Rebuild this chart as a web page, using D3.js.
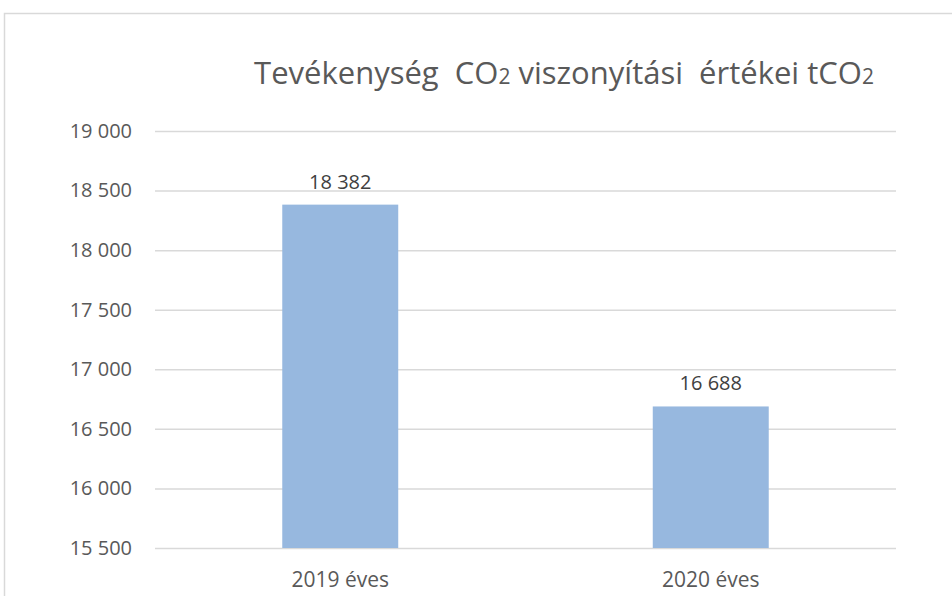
<!DOCTYPE html>
<html>
<head>
<meta charset="utf-8">
<script src="https://cdn.jsdelivr.net/npm/d3@7"></script>
<style>
  body { margin: 0; background: #fff; }
  svg { display: block; font-family: "Open Sans", sans-serif; }
</style>
</head>
<body>
<div id="chart"></div>
<script>
// chart data
var categories = [ "2019 éves", "2020 éves" ];
var values = [ 18382, 16688 ];
var yTicks = [ 15500, 16000, 16500, 17000, 17500, 18000, 18500, 19000 ];

var width = 952, height = 596;
var margin = { top: 131, right: 56, bottom: 48, left: 155 };
var innerW = width - margin.left - margin.right,
    innerH = height - margin.top - margin.bottom;

var fmt = function( v ) { return d3.format( ",d" )( v ).replace( /,/g, " " ); };

var svg = d3.select( "#chart" ).append( "svg" )
    .attr( "width", width )
    .attr( "height", height );

// outer chart frame (runs off the right and bottom edges)
svg.append( "rect" )
    .attr( "x", 4.5 ).attr( "y", 13.5 )
    .attr( "width", width + 20 ).attr( "height", height + 20 )
    .attr( "fill", "none" )
    .attr( "stroke", "#d9d9d9" )
    .attr( "stroke-width", 1.5 );

var g = svg.append( "g" )
    .attr( "transform", "translate(" + margin.left + "," + margin.top + ")" );

var x = d3.scaleBand().domain( categories ).range( [ 0, innerW ] )
    .paddingInner( 0.687 ).paddingOuter( 0.3435 );
var y = d3.scaleLinear().domain( [ 15500, 19000 ] ).range( [ innerH, 0 ] );

// gridlines
g.append( "g" )
    .call( d3.axisLeft( y ).tickValues( yTicks ).tickSize( -innerW ).tickFormat( "" ) )
    .call( function( a ) {
        a.select( ".domain" ).remove();
        a.selectAll( "line" ).attr( "stroke", "#d9d9d9" ).attr( "stroke-width", 1.5 );
    });

// y axis labels
g.append( "g" )
    .call( d3.axisLeft( y ).tickValues( yTicks ).tickSize( 0 ).tickPadding( 23 ).tickFormat( fmt ) )
    .call( function( a ) {
        a.select( ".domain" ).remove();
        a.selectAll( "text" )
            .attr( "fill", "#595959" )
            .style( "font-size", "20px" )
            .style( "font-family", "'Open Sans', sans-serif" );
    });

// bars
g.selectAll( ".bar" )
    .data( values )
    .enter().append( "rect" )
    .attr( "class", "bar" )
    .attr( "x", function( d, i ) { return x( categories[i] ); })
    .attr( "width", x.bandwidth() )
    .attr( "y", function( d ) { return y( d ); })
    .attr( "height", function( d ) { return innerH - y( d ); })
    .attr( "fill", "#97b8df" );

// value labels
g.selectAll( ".val" )
    .data( values )
    .enter().append( "text" )
    .attr( "class", "val" )
    .attr( "x", function( d, i ) { return x( categories[i] ) + x.bandwidth() / 2; })
    .attr( "y", function( d ) { return y( d ) - 16; })
    .attr( "text-anchor", "middle" )
    .attr( "fill", "#404040" )
    .style( "font-size", "20px" )
    .text( fmt );

// x axis labels
g.append( "g" )
    .attr( "transform", "translate(0," + innerH + ")" )
    .call( d3.axisBottom( x ).tickSize( 0 ).tickPadding( 24 ) )
    .call( function( a ) {
        a.select( ".domain" ).remove();
        a.selectAll( "text" )
            .attr( "fill", "#595959" )
            .style( "font-size", "21px" )
            .style( "font-family", "'Open Sans', sans-serif" );
    });

// title with small "2"
var title = svg.append( "text" )
    .attr( "x", 564 ).attr( "y", 84 )
    .attr( "text-anchor", "middle" )
    .attr( "fill", "#595959" )
    .style( "white-space", "pre" )
    .style( "font-size", "31px" );
title.append( "tspan" ).text( "Tevékenység  CO" );
title.append( "tspan" ).style( "font-size", "21px" ).text( "2" );
title.append( "tspan" ).text( " viszonyítási  értékei tCO" );
title.append( "tspan" ).style( "font-size", "21px" ).text( "2" );
</script>
</body>
</html>
